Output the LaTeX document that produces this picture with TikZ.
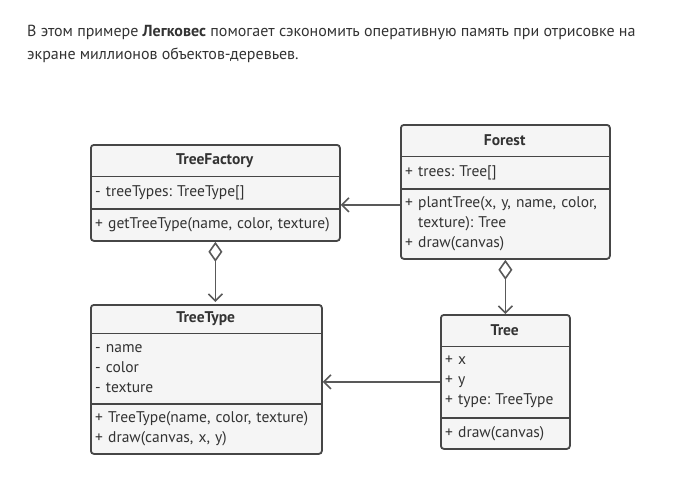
\documentclass[tikz,border=0pt]{standalone}
\usepackage{fontspec}
\setmainfont{PT Sans}
\usetikzlibrary{positioning,arrows.meta}
\frenchspacing

\definecolor{boxfill}{HTML}{F5F5F5}
\definecolor{boxline}{HTML}{464646}
\definecolor{inkgray}{HTML}{333333}
\definecolor{linkgray}{HTML}{595959}

\tikzset{
  classbox/.style={draw=boxline, fill=boxfill, line width=1.8pt, rounded corners=3pt, anchor=north west, inner sep=0pt},
  classhead/.style={anchor=north west, inner sep=0pt, text=inkgray, font=\fontsize{15.5}{20}\selectfont\bfseries},
  classbody/.style={inner xsep=5pt, inner ysep=0pt, align=left, text=inkgray, font=\fontsize{15.5}{20}\selectfont},
  sepline/.style={draw=boxline, line width=1.8pt},
  uses/.style={draw=linkgray, line width=1.6pt, -{Straight Barb[length=7pt, width=14pt, line width=1.6pt]}},
  holds/.style={draw=linkgray, line width=1.6pt, {Diamond[open, fill=white, length=20pt, width=14pt, line width=1.6pt]}-{Straight Barb[length=7pt, width=14pt, line width=1.6pt]}}
}

\begin{document}
\begin{tikzpicture}[x=1pt, y=-1pt]
  \useasboundingbox (0,0) rectangle (699,480);

  \node[anchor=base west, inner sep=0pt, align=left, text=inkgray, font=\fontsize{16}{23}\selectfont] (intro) at (27,59)
    {В этом примере \textbf{Легковес} помогает сэкономить оперативную память при отрисовке на\\
     экране миллионов объектов-деревьев.};

  % TreeFactory
  \node[classbox, minimum width=249pt, minimum height=96pt] (factory) at (90,144) {};
  \node[classhead, minimum width=249pt, minimum height=32pt] (factoryhead) at (factory.north west) {TreeFactory};
  \node[classbody, below=0pt of factoryhead, text width=239pt, minimum height=32pt] (factoryattr) {- treeTypes: TreeType[]};
  \node[classbody, below=0pt of factoryattr, text width=239pt, minimum height=32pt] (factoryops) {+ getTreeType(name, color, texture)};
  \draw[sepline] (factoryhead.south west) -- (factoryhead.south east);
  \draw[sepline] (factoryattr.south west) -- (factoryattr.south east);

  % Forest
  \node[classbox, minimum width=209pt, minimum height=134pt] (forest) at (400,124) {};
  \node[classhead, minimum width=209pt, minimum height=32pt] (foresthead) at (forest.north west) {Forest};
  \node[classbody, below=0pt of foresthead, text width=199pt, minimum height=32pt] (forestattr) {+ trees: Tree[]};
  \node[classbody, below=0pt of forestattr, text width=199pt, minimum height=70pt] (forestops)
    {+ plantTree(x, y, name, color,\\ \phantom{+} texture): Tree\\ + draw(canvas)};
  \draw[sepline] (foresthead.south west) -- (foresthead.south east);
  \draw[sepline] (forestattr.south west) -- (forestattr.south east);

  % TreeType
  \node[classbox, minimum width=231pt, minimum height=149pt] (treetype) at (90,304) {};
  \node[classhead, minimum width=231pt, minimum height=29pt] (treetypehead) at (treetype.north west) {TreeType};
  \node[classbody, below=0pt of treetypehead, text width=221pt, minimum height=70pt] (treetypeattr) {- name\\ - color\\ - texture};
  \node[classbody, below=0pt of treetypeattr, text width=221pt, minimum height=50pt] (treetypeops)
    {+ TreeType(name, color, texture)\\ + draw(canvas, x, y)};
  \draw[sepline] (treetypehead.south west) -- (treetypehead.south east);
  \draw[sepline] (treetypeattr.south west) -- (treetypeattr.south east);

  % Tree
  \node[classbox, minimum width=129pt, minimum height=134pt] (tree) at (440,314) {};
  \node[classhead, minimum width=129pt, minimum height=32pt] (treehead) at (tree.north west) {Tree};
  \node[classbody, below=0pt of treehead, text width=119pt, minimum height=71pt] (treeattr) {+ x\\ + y\\ + type: TreeType};
  \node[classbody, below=0pt of treeattr, text width=119pt, minimum height=31pt] (treeops) {+ draw(canvas)};
  \draw[sepline] (treehead.south west) -- (treehead.south east);
  \draw[sepline] (treeattr.south west) -- (treeattr.south east);

  % links
  \draw[uses] ([yshift=-13pt]forest.west) -- ([yshift=-13pt]forest.west -| factory.east);
  \draw[uses] (tree.west) -- (tree.west -| treetype.east);
  \draw[holds] (factory.south) -- ([yshift=2pt]factory.south |- treetype.north);
  \draw[holds] (forest.south) -- (tree.north);
\end{tikzpicture}
\end{document}
